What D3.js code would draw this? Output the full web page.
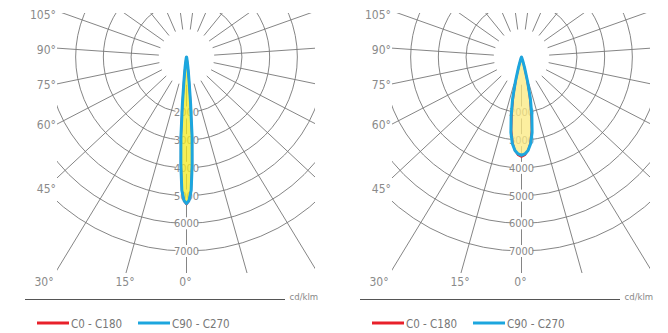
<!DOCTYPE html>
<html>
<head>
<meta charset="utf-8">
<script src="https://cdn.jsdelivr.net/npm/d3@7"></script>
<style>
	body { margin: 0; background: #fff; }
	svg { display: block; }
	text { font-family: "Liberation Sans Narrow", "Arial Narrow", "DejaVu Sans Condensed", sans-serif; }
</style>
</head>
<body>
<script>
(function (undefined) {

	// polar intensity data, cd/klm, angle gamma measured from nadir
	var leftAngles = [0, 1, 2, 3, 4, 5, 6, 7, 8, 9, 10, 12, 15, 20, 30, 45, 60, 90],
		leftC0 = [5320, 5200, 4800, 3880, 2880, 1680, 900, 550, 350, 220, 140, 75, 38, 18, 9, 4, 2, 0],
		leftC90 = [5290, 5180, 4820, 3900, 2900, 1700, 920, 560, 360, 230, 150, 80, 40, 20, 10, 5, 2, 0];

	var rightAngles = [0, 2, 4, 6, 8, 10, 12, 14, 16, 18, 20, 25, 30, 45, 60, 90],
		rightC0 = [3600, 3540, 3390, 3100, 2650, 2000, 1380, 780, 330, 120, 50, 15, 8, 4, 2, 0],
		rightC90 = [3545, 3500, 3380, 3150, 2750, 2150, 1550, 900, 400, 150, 60, 20, 10, 5, 2, 0];

	var ringValues = [2000, 3000, 4000, 5000, 6000, 7000],
		angleLabels = [0, 15, 30, 45, 60, 75, 90, 105],
		seriesNames = ["C0 - C180", "C90 - C270"],
		seriesColors = ["#e8202a", "#1ca6de"],
		gridLineCount = 23;

	var w = 668,
		h = 333,
		cy = 57,
		grey = "#777";

	var svg = d3.select("body")
		.append("svg")
		.attr("width", w)
		.attr("height", h);

	var r = d3.scaleLinear().domain([0, 7000]).range([0, 194]);
	var deg = d3.scaleLinear().domain([0, 360]).range([0, 2 * Math.PI]);

	function drawChart(cx, id, angles, c0, c90, fillColor) {
		var left = cx - 129.5, right = cx + 128.5, top = 13, bottom = 273;

		svg.append("clipPath")
			.attr("id", id)
			.append("rect")
			.attr("x", left)
			.attr("y", top)
			.attr("width", right - left)
			.attr("height", bottom - top);

		var g = svg.append("g");
		var grid = g.append("g")
			.attr("clip-path", "url(#" + id + ")")
			.append("g")
			.attr("transform", "translate(" + cx + "," + cy + ")");

		// rings
		grid.selectAll("circle")
			.data(ringValues)
			.enter()
			.append("circle")
			.attr("r", function (d) { return r(d); })
			.attr("fill", "none")
			.attr("stroke", grey)
			.attr("stroke-width", 0.9);

		// spokes, starting at the 1000 ring
		grid.selectAll("line")
			.data(d3.range(gridLineCount))
			.enter()
			.append("line")
			.attr("x1", function (d) { return r(1000) * Math.sin(deg(d * 360 / gridLineCount)); })
			.attr("y1", function (d) { return r(1000) * Math.cos(deg(d * 360 / gridLineCount)); })
			.attr("x2", function (d) { return 400 * Math.sin(deg(d * 360 / gridLineCount)); })
			.attr("y2", function (d) { return 400 * Math.cos(deg(d * 360 / gridLineCount)); })
			.attr("stroke", grey)
			.attr("stroke-width", 0.9);

		// ring labels on the nadir axis
		var ringLab = grid.selectAll("g.ringlab")
			.data(ringValues)
			.enter()
			.append("g")
			.attr("class", "ringlab")
			.attr("transform", function (d) { return "translate(0," + r(d) + ")"; });

		ringLab.append("rect")
			.attr("x", -11)
			.attr("y", -6)
			.attr("width", 22)
			.attr("height", 12)
			.attr("fill", "#fff");

		ringLab.append("text")
			.attr("text-anchor", "middle")
			.attr("dy", "0.36em")
			.attr("font-size", 11)
			.attr("fill", "#888")
			.text(function (d) { return d; });

		// angle labels
		g.selectAll("text.ang")
			.data(angleLabels)
			.enter()
			.append("text")
			.attr("class", "ang")
			.attr("font-size", 12)
			.attr("fill", "#8a8a8a")
			.attr("text-anchor", function (d) { return d <= 30 ? "middle" : "end"; })
			.attr("x", function (d) {
				if (d === 30) return left - 13;
				if (d < 30) return cx - (bottom - cy) * Math.tan(deg(d * 360 / 345)) - 1;
				return left - 1;
			})
			.attr("y", function (d) {
				if (d <= 30) return 286;
				return cy + (cx - left) / Math.tan(deg(d)) - 3 + (d === 45 ? 9 : 0);
			})
			.text(function (d) { return d + "°"; });

		// luminous intensity curves
		var curve = d3.lineRadial()
			.angle(function (d) { return Math.PI - deg(d[0]); })
			.radius(function (d) { return r(d[1]); })
			.curve(d3.curveLinearClosed);

		var series = [c0, c90].map(function (vals) {
			var pts = angles.map(function (a, i) { return [a, vals[i]]; });
			var mirrored = pts.slice(1).reverse().map(function (p) { return [-p[0], p[1]]; });
			return mirrored.concat(pts.slice(0));
		});

		var plot = g.append("g")
			.attr("transform", "translate(" + cx + "," + cy + ")");

		plot.selectAll("path.area")
			.data(series)
			.enter()
			.append("path")
			.attr("class", "area")
			.attr("d", curve)
			.attr("fill", fillColor)
			.attr("fill-opacity", 0.5)
			.attr("stroke", "none");

		plot.selectAll("path.line")
			.data(series)
			.enter()
			.append("path")
			.attr("class", "line")
			.attr("d", curve)
			.attr("fill", "none")
			.attr("stroke", function (d, i) { return seriesColors[i]; })
			.attr("stroke-width", function (d, i) { return i ? 3 : 2; })
			.attr("stroke-linejoin", "round");

		// base line + unit
		g.append("line")
			.attr("x1", cx - 161.5)
			.attr("x2", cx + 98.5)
			.attr("y1", 299.5)
			.attr("y2", 299.5)
			.attr("stroke", "#555")
			.attr("stroke-width", 1);

		g.append("text")
			.attr("x", cx + 103)
			.attr("y", 300)
			.attr("font-size", 9.5)
			.attr("fill", "#888")
			.text("cd/klm");

		// legend
		var leg = g.selectAll("g.leg")
			.data(seriesNames)
			.enter()
			.append("g")
			.attr("class", "leg")
			.attr("transform", function (d, i) { return "translate(" + (cx - 149.5 + i * 101) + ",323)"; });

		leg.append("line")
			.attr("x1", 0)
			.attr("x2", 32)
			.attr("stroke", function (d, i) { return seriesColors[i]; })
			.attr("stroke-width", 3);

		leg.append("text")
			.attr("x", 34)
			.attr("y", 4.5)
			.attr("font-size", 11.5)
			.attr("fill", "#777")
			.text(function (d) { return d; });
	}

	drawChart(186.5, "clipL", leftAngles, leftC0, leftC90, "#f2ea20");
	drawChart(521.5, "clipR", rightAngles, rightC0, rightC90, "#fbea80");

}());
</script>
</body>
</html>
